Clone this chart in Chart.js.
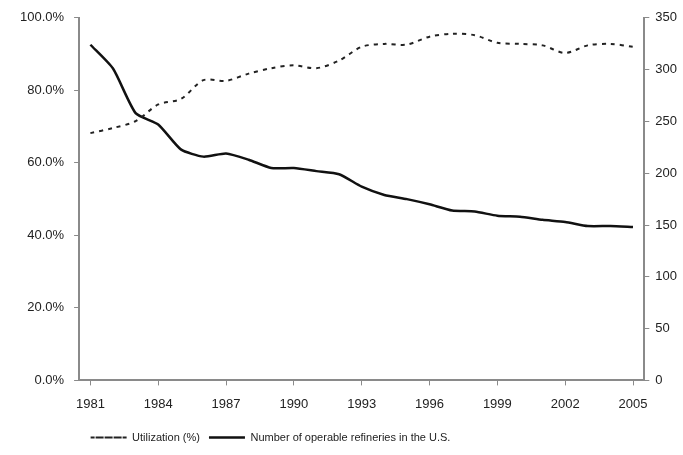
<!DOCTYPE html>
<html>
<head>
<meta charset="utf-8">
<script src="https://cdn.jsdelivr.net/npm/chart.js@4.4.0/dist/chart.umd.min.js"></script>
<style>
    html, body { margin: 0; padding: 0; background: #fff; }
    #wrap { width: 683px; height: 455px; }
</style>
</head>
<body>
<div id="wrap"><canvas id="chart"></canvas></div>
<script>
// Data
const years = ['1981', '1982', '1983', '1984', '1985', '1986', '1987', '1988', '1989',
    '1990', '1991', '1992', '1993', '1994', '1995', '1996', '1997', '1998', '1999',
    '2000', '2001', '2002', '2003', '2004', '2005'];
const utilization = [68.2, 69.6, 71.5, 76.1, 77.6, 82.8, 82.6, 84.6, 86.1, 86.9, 86.1, 88.2,
    92.0, 92.8, 92.6, 94.8, 95.6, 95.2, 93.1, 92.8, 92.4, 90.3, 92.4, 92.8, 92.0];
const refineries = [324, 301, 258, 247, 223, 216, 219, 213, 205, 205, 202, 199,
    187, 179, 175, 170, 164, 163, 159, 158, 155, 153, 149, 149, 148];

const axisColor = '#8a8a8a';
const textColor = '#222';
const font = { family: '"Liberation Sans", Arial, sans-serif', size: 13 };

// only every third year gets a label and a tick mark
const shown = i => i % 3 === 0;

// the legend in the original sits left of centre
const legendShift = {
    id: 'legendShift',
    afterLayout(chart) {
        chart.legend.left -= 76;
        chart.legend.right -= 76;
    }
};

new Chart(document.getElementById('chart'), {
    type: 'line',
    data: {
        labels: years,
        datasets: [{
            label: 'Utilization (%)',
            data: utilization,
            yAxisID: 'y',
            borderColor: '#222',
            backgroundColor: '#222',
            borderWidth: 2,
            borderDash: [4, 5],
            pointRadius: 0,
            tension: 0.3
        }, {
            label: 'Number of operable refineries in the U.S.',
            data: refineries,
            yAxisID: 'y1',
            borderColor: '#111',
            backgroundColor: '#111',
            borderWidth: 2.5,
            pointRadius: 0,
            tension: 0.2
        }]
    },
    options: {
        responsive: true,
        maintainAspectRatio: false,
        animation: false,
        layout: { padding: { left: 10, right: 0, top: 6, bottom: 2 } },
        scales: {
            x: {
                offset: true,
                border: { color: axisColor, width: 2 },
                grid: {
                    drawOnChartArea: false,
                    tickLength: 5,
                    color: ctx => shown(ctx.index) ? axisColor : 'rgba(0,0,0,0)'
                },
                ticks: {
                    autoSkip: false,
                    maxRotation: 0,
                    color: textColor,
                    font: font,
                    padding: 11,
                    callback: (v, i) => shown(i) ? years[i] : ''
                }
            },
            y: {
                position: 'left',
                min: 0,
                max: 100,
                border: { color: axisColor, width: 2 },
                grid: { drawOnChartArea: false, tickLength: 5, color: axisColor },
                ticks: {
                    stepSize: 20,
                    color: textColor,
                    font: font,
                    padding: 10,
                    callback: v => v.toFixed(1) + '%'
                }
            },
            y1: {
                position: 'right',
                min: 0,
                max: 350,
                border: { color: axisColor, width: 2 },
                grid: { drawOnChartArea: false, tickLength: 5, color: axisColor },
                ticks: {
                    stepSize: 50,
                    color: textColor,
                    font: font,
                    padding: 6
                }
            }
        },
        plugins: {
            legend: {
                position: 'bottom',
                labels: {
                    color: textColor,
                    font: { family: font.family, size: 11 },
                    boxWidth: 36,
                    boxHeight: 0,
                    padding: 9
                }
            },
            tooltip: { enabled: false }
        }
    },
    plugins: [legendShift]
});
</script>
</body>
</html>
